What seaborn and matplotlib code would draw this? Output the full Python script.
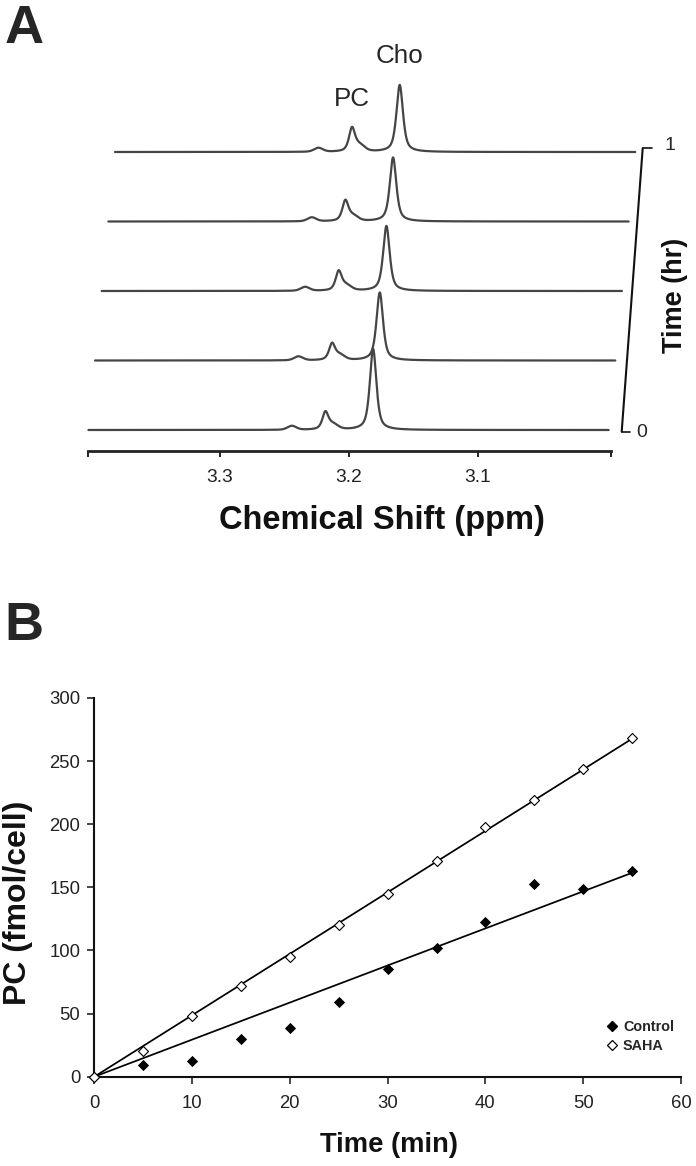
import numpy as np
import pandas as pd
import matplotlib
matplotlib.use("Agg")
import matplotlib.pyplot as plt
import seaborn as sns
from matplotlib.lines import Line2D

# ---------------- Panel A data: stacked 1H NMR spectra (bottom = 0 hr, top = 1 hr) ----------------
time_axis_labels = ["0", "1"]
cho_ppm = 3.181
pc_ppm = 3.218
pc_shoulder_ppm = 3.212
minor_ppm = 3.244
cho_height = [81, 68, 65, 64, 67]
pc_height = [17, 16, 19, 20, 23]
pc_shoulder_height = [5, 5, 5, 5, 6]
minor_height = [4, 4, 4, 4, 4]
cho_fwhm = 0.0060
pc_fwhm = 0.0056
spectrum_ppm_range = [3.4017, 2.9984]
shift_tick_values = [3.3, 3.2, 3.1]
shift_tick_labels = ["3.3", "3.2", "3.1"]

# ---------------- Panel B data: PC accumulation ----------------
time_min = [0, 5, 10, 15, 20, 25, 30, 35, 40, 45, 50, 55]
control_pc = [0, 9, 12.5, 30, 38.5, 59, 85.5, 102, 122.5, 152.5, 148.5, 163]
saha_pc = [0, 20, 48, 72, 94.5, 120.5, 144.5, 170.5, 197.5, 219.5, 244, 268]
x_ticks_b = [0, 10, 20, 30, 40, 50, 60]
y_ticks_b = [0, 50, 100, 150, 200, 250, 300]

# ---------------- style ----------------
sns.set_style("ticks")
plt.rcParams["font.family"] = ["Liberation Sans", "DejaVu Sans"]

W, H = 696, 1166
fig = plt.figure(figsize=(W / 100, H / 100), dpi=100)
LINE_COL = "#454545"


def pseudo_voigt(x, center, height, fwhm, eta=0.65):
    g = np.exp(-4 * np.log(2) * ((x - center) / fwhm) ** 2)
    l = 1.0 / (1.0 + 4 * ((x - center) / fwhm) ** 2)
    return height * (eta * l + (1 - eta) * g)


# ---------------- Panel A ----------------
PX_PER_PPM = 1290.0
REF_PX, REF_PPM = 348.6, 3.2


def ppm_at(px):
    return REF_PPM - (px - REF_PX) / PX_PER_PPM


A_left, A_right, A_bottom, A_top = 87.7, 660.0, 451.0, 40.0
axA = fig.add_axes([A_left / W, 1 - A_bottom / H, (A_right - A_left) / W, (A_bottom - A_top) / H])
axA.set_xlim(ppm_at(A_left), ppm_at(A_right))
axA.set_ylim(0, A_bottom - A_top)

BASE0 = 21.0        # display offset of the first trace above the axis
TRACE_GAP = 69.5    # vertical stacking offset
TRACE_SKEW = 6.65 / PX_PER_PPM  # horizontal perspective offset

ppm = np.linspace(spectrum_ppm_range[0], spectrum_ppm_range[1], 3000)
n_traces = len(cho_height)
for i in range(n_traces):
    spec = (pseudo_voigt(ppm, cho_ppm, cho_height[i], cho_fwhm)
            + pseudo_voigt(ppm, pc_ppm, pc_height[i], pc_fwhm)
            + pseudo_voigt(ppm, pc_shoulder_ppm, pc_shoulder_height[i], 0.009, eta=0.3)
            + pseudo_voigt(ppm, minor_ppm, minor_height[i], 0.008, eta=0.3))
    sns.lineplot(x=ppm - i * TRACE_SKEW, y=BASE0 + i * TRACE_GAP + spec, ax=axA,
                 color=LINE_COL, lw=1.6, sort=False, estimator=None, clip_on=False)

top_i = n_traces - 1
axA.text(pc_ppm - top_i * TRACE_SKEW, BASE0 + top_i * TRACE_GAP + pc_height[top_i] + 30, "PC",
         ha="center", va="center", fontsize=18.7)
axA.text(cho_ppm - top_i * TRACE_SKEW, BASE0 + top_i * TRACE_GAP + cho_height[top_i] + 29, "Cho",
         ha="center", va="center", fontsize=18.7)

for s in ["top", "left", "right"]:
    axA.spines[s].set_visible(False)
left_end, right_end = ppm_at(87.7), ppm_at(611.0)
axA.spines["bottom"].set_bounds(left_end, right_end)
axA.spines["bottom"].set_linewidth(2.0)
axA.spines["bottom"].set_color("#222222")
axA.set_xticks([left_end] + shift_tick_values + [right_end])
axA.set_xticklabels([""] + shift_tick_labels + [""])
axA.set_yticks([])
axA.tick_params(axis="x", direction="out", length=4.5, width=1.4, color="#222222",
                labelsize=13.9, pad=8.5, labelcolor="#222222")
axA.set_xlabel("Chemical Shift (ppm)", fontsize=23.5, fontweight="bold", color="#111111")
axA.xaxis.set_label_coords((381.7 - A_left) / (A_right - A_left), (A_bottom - 505.0) / (A_bottom - A_top))

# time axis (0 -> 1 hr) drawn at the right of the stack
tb = (ppm_at(621.7), A_bottom - 431.7)
tt = (ppm_at(642.7), A_bottom - 148.3)
axA.plot([tb[0], tt[0]], [tb[1], tt[1]], color="#111111", lw=1.5, clip_on=False)
axA.plot([tb[0], ppm_at(630.0)], [tb[1], tb[1]], color="#111111", lw=1.2, clip_on=False)
axA.plot([tt[0], ppm_at(651.7)], [tt[1], tt[1]], color="#111111", lw=1.2, clip_on=False)
axA.text(ppm_at(641.7), A_bottom - 432.5, time_axis_labels[0], ha="center", va="center", fontsize=14)
axA.text(ppm_at(670.0), A_bottom - 145.0, time_axis_labels[1], ha="center", va="center", fontsize=14)
axA.text(ppm_at(674.7), A_bottom - 295.0, "Time (hr)", rotation=90, ha="center", va="center",
         fontsize=19.5, fontweight="bold", color="#111111")

# ---------------- Panel B ----------------
B_left, B_right, B_bottom, B_top = 94.3, 681.0, 1076.7, 698.0
axB = fig.add_axes([B_left / W, 1 - B_bottom / H, (B_right - B_left) / W, (B_bottom - B_top) / H])

t = np.array(time_min, dtype=float)
for vals in (control_pc, saha_pc):
    v = np.array(vals, dtype=float)
    slope = np.sum(t * v) / np.sum(t * t)   # linear trend through the origin
    sns.lineplot(x=[t.min(), t.max()], y=[0, slope * t.max()], ax=axB, color="black",
                 lw=1.25, zorder=2, estimator=None)

sns.scatterplot(x=time_min, y=control_pc, ax=axB, marker="D", s=26, color="black",
                edgecolor="black", linewidth=0.6, zorder=3, clip_on=False)
sns.scatterplot(x=time_min, y=saha_pc, ax=axB, marker="D", s=26, facecolor="white",
                edgecolor="black", linewidth=0.8, zorder=4, clip_on=False)

axB.set_xlim(0, 60)
axB.set_ylim(0, 300)
axB.set_xticks(x_ticks_b)
axB.set_yticks(y_ticks_b)
for s in ["top", "right"]:
    axB.spines[s].set_visible(False)
for s in ["left", "bottom"]:
    axB.spines[s].set_linewidth(1.5)
    axB.spines[s].set_color("#111111")
axB.tick_params(axis="x", direction="out", length=4.8, width=1.2, labelsize=13.3, pad=8.5, labelcolor="#222222")
axB.tick_params(axis="y", direction="out", length=5.0, width=1.2, labelsize=13.3, pad=5.0, labelcolor="#222222")
axB.set_xlabel("Time (min)", fontsize=19.7, fontweight="bold", color="#111111")
axB.set_ylabel("PC (fmol/cell)", fontsize=23, fontweight="bold", color="#111111")
axB.xaxis.set_label_coords((389.0 - B_left) / (B_right - B_left), (B_bottom - 1131.5) / (B_bottom - B_top))
axB.yaxis.set_label_coords((33.0 - B_left) / (B_right - B_left), (B_bottom - 903.0) / (B_bottom - B_top))

handles = [Line2D([], [], marker="D", ls="none", color="black", markersize=5.3),
           Line2D([], [], marker="D", ls="none", markerfacecolor="white", markeredgecolor="black",
                  markeredgewidth=0.9, markersize=5.3)]
axB.legend(handles, ["Control", "SAHA"], loc="center left",
           bbox_to_anchor=((606.4 - B_left) / (B_right - B_left), (B_bottom - 1036.4) / (B_bottom - B_top)),
           frameon=False, borderpad=0, borderaxespad=0, handlelength=0.8, handletextpad=0.35,
           labelspacing=0.35, prop={"weight": "bold", "size": 10.4})

# panel letters
fig.text(5 / W, 1 - 43.3 / H, "A", fontsize=39, fontweight="bold", ha="left", va="baseline")
fig.text(4 / W, 1 - 640.0 / H, "B", fontsize=39, fontweight="bold", ha="left", va="baseline")

fig.savefig("out.png", dpi=100)
